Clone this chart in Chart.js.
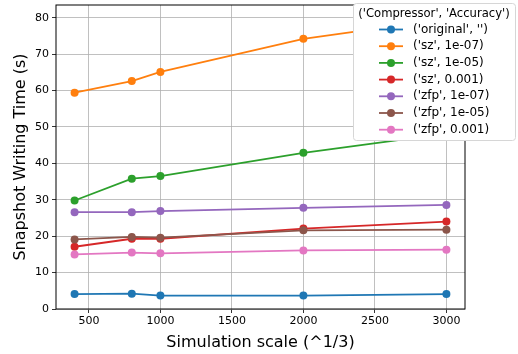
<!DOCTYPE html>
<html>
<head>
<meta charset="utf-8">
<script src="https://cdn.jsdelivr.net/npm/chart.js@4.4.0/dist/chart.umd.min.js"></script>
<style>
  body { margin: 0; background: #fff; }
  #wrap { width: 518px; height: 354px; }
</style>
</head>
<body>
<div id="wrap"><canvas id="myChart" width="518" height="354"></canvas></div>
<script>
var scales = [400, 800, 1000, 2000, 3000];
var xTicks = [500, 1000, 1500, 2000, 2500, 3000];
var yTicks = [0, 10, 20, 30, 40, 50, 60, 70, 80];

var seriesNames = [
  "('original', '')",
  "('sz', 1e-07)",
  "('sz', 1e-05)",
  "('sz', 0.001)",
  "('zfp', 1e-07)",
  "('zfp', 1e-05)",
  "('zfp', 0.001)",
];
var original = [4.1, 4.2, 3.7, 3.7, 4.1];
var sz_1e07 = [59.4, 62.6, 65.1, 74.2, 79.7];
var sz_1e05 = [29.8, 35.8, 36.5, 42.9, 48.2];
var sz_0001 = [17.1, 19.3, 19.3, 22.1, 24.0];
var zfp_1e07 = [26.6, 26.6, 26.9, 27.8, 28.6];
var zfp_1e05 = [19.1, 19.8, 19.6, 21.6, 21.8];
var zfp_0001 = [15.0, 15.5, 15.3, 16.1, 16.3];

var seriesValues = [original, sz_1e07, sz_1e05, sz_0001, zfp_1e07, zfp_1e05, zfp_0001];
var colors = ["#1f77b4", "#ff7f0e", "#2ca02c", "#d62728", "#9467bd", "#8c564b", "#e377c2"];

var font = "DejaVu Sans";

var datasets = seriesValues.map(function (vals, i) {
  return {
    label: seriesNames[i],
    data: vals.map(function (v, j) { return { x: scales[j], y: v }; }),
    borderColor: colors[i],
    backgroundColor: colors[i],
    borderWidth: 1.8,
    pointRadius: 4,
    pointBorderWidth: 0,
    pointHoverRadius: 4,
    tension: 0,
    order: seriesValues.length - i, // matplotlib draws later series on top
  };
});

// legend box in the top right, drawn over the plot like matplotlib
var legendPlugin = {
  id: "mplLegend",
  afterDraw: function (chart) {
    var ctx = chart.ctx;
    var x0 = 353, y0 = 3, w = 162, h = 137;
    ctx.save();
    ctx.beginPath();
    ctx.roundRect(x0 + 0.5, y0 + 0.5, w, h, 3);
    ctx.fillStyle = "#ffffff";
    ctx.fill();
    ctx.strokeStyle = "#d6d6d6";
    ctx.lineWidth = 1;
    ctx.stroke();

    ctx.font = "11.6px '" + font + "'";
    ctx.fillStyle = "#000";
    ctx.textBaseline = "middle";
    ctx.textAlign = "center";
    ctx.fillText("('Compressor', 'Accuracy')", x0 + w / 2, 13.5);

    ctx.font = "12px '" + font + "'";
    ctx.textAlign = "left";
    for (var i = 0; i < seriesNames.length; i++) {
      var y = 29.5 + i * 16.7;
      ctx.strokeStyle = colors[i];
      ctx.lineWidth = 1.8;
      ctx.beginPath();
      ctx.moveTo(379, y);
      ctx.lineTo(403, y);
      ctx.stroke();
      ctx.fillStyle = colors[i];
      ctx.beginPath();
      ctx.arc(391, y, 4, 0, Math.PI * 2);
      ctx.fill();
      ctx.fillStyle = "#000";
      ctx.fillText(seriesNames[i], 413, y);
    }
    ctx.restore();
  },
};

// black frame around the axes
var framePlugin = {
  id: "frame",
  afterDatasetsDraw: function (chart) {
    var a = chart.chartArea;
    var ctx = chart.ctx;
    ctx.save();
    ctx.strokeStyle = "#000";
    ctx.lineWidth = 1;
    ctx.strokeRect(a.left, a.top, a.right - a.left, a.bottom - a.top);
    ctx.restore();
  },
};

new Chart(document.getElementById("myChart").getContext("2d"), {
  type: "line",
  data: { datasets: datasets },
  options: {
    responsive: false,
    animation: false,
    layout: { padding: { top: 5, right: 53, left: 0, bottom: 0 } },
    plugins: {
      legend: { display: false },
      tooltip: { enabled: false },
    },
    scales: {
      x: {
        type: "linear",
        min: 270,
        max: 3130,
        afterBuildTicks: function (scale) {
          scale.ticks = xTicks.map(function (v) { return { value: v }; });
        },
        afterFit: function (scale) {
          scale.height = 45;
          scale.paddingLeft = 0;
          scale.paddingRight = 0;
        },
        grid: {
          color: "#b0b0b0",
          lineWidth: 0.8,
          drawTicks: true,
          tickLength: 4,
          tickColor: "#000",
        },
        border: { display: false },
        ticks: {
          color: "#000",
          font: { family: font, size: 11 },
          padding: 2,
          maxRotation: 0,
          callback: function (v) { return v; },
        },
        title: {
          display: true,
          text: "Simulation scale (^1/3)",
          color: "#000",
          font: { family: font, size: 16 },
          padding: { top: 0, bottom: 2 },
        },
      },
      y: {
        type: "linear",
        min: 0,
        max: 83.5,
        afterBuildTicks: function (scale) {
          scale.ticks = yTicks.map(function (v) { return { value: v }; });
        },
        afterFit: function (scale) {
          scale.width = 56;
          scale.paddingTop = 0;
          scale.paddingBottom = 0;
        },
        grid: {
          color: "#b0b0b0",
          lineWidth: 0.8,
          tickLength: 4,
          tickColor: "#000",
        },
        border: { display: false },
        ticks: {
          color: "#000",
          font: { family: font, size: 11 },
          padding: 3,
        },
        title: {
          display: true,
          text: "Snapshot Writing Time (s)",
          color: "#000",
          font: { family: font, size: 16 },
          padding: { top: 11, bottom: 0 },
        },
      },
    },
  },
  plugins: [framePlugin, legendPlugin],
});
</script>
</body>
</html>
